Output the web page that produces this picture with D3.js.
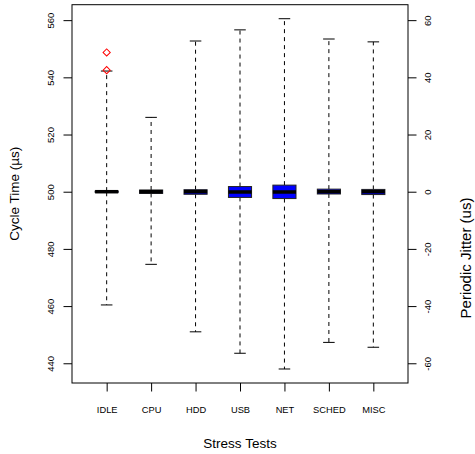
<!DOCTYPE html>
<html>
<head>
<meta charset="utf-8">
<script src="https://cdn.jsdelivr.net/npm/d3@7"></script>
<style>
  html, body { margin: 0; padding: 0; background: #fff; }
  svg { display: block; }
  text { font-family: "Liberation Sans", Arial, sans-serif; fill: #000; }
</style>
</head>
<body>
<svg id="chart" width="475" height="454"></svg>
<script>
// ---- data ----
const categories   = ["IDLE", "CPU", "HDD", "USB", "NET", "SCHED", "MISC"];
const whiskerLow   = [460.4, 474.6, 451.0, 443.5, 438.0, 447.3, 445.6];
const q1           = [499.8, 499.4, 499.1, 498.0, 497.6, 499.2, 499.0];
const median       = [500.0, 500.0, 500.0, 499.9, 499.9, 500.0, 500.0];
const q3           = [500.2, 500.6, 500.7, 501.8, 502.3, 500.9, 500.8];
const whiskerHigh  = [542.2, 526.0, 552.7, 556.6, 560.5, 553.4, 552.4];
const outlierGroup = ["IDLE", "IDLE"];
const outlierValue = [548.7, 542.5];
const leftTicks    = [440, 460, 480, 500, 520, 540, 560];
const rightTicks   = [-60, -40, -20, 0, 20, 40, 60];
const jitterOffset = 500;

const boxes = categories.map((c, i) => ({
  name: c, lo: whiskerLow[i], q1: q1[i], med: median[i], q3: q3[i], hi: whiskerHigh[i]
}));
const outliers = outlierGroup.map((g, i) => ({ name: g, v: outlierValue[i] }));

// ---- layout ----
const plot = { left: 72, right: 408, top: 4.7, bottom: 383 };
const svg = d3.select("#chart");

const x = d3.scaleLinear().domain([0.22, 7.78]).range([plot.left, plot.right]);
const xPos = name => x(categories.indexOf(name) + 1);
const y = d3.scaleLinear().domain([433.1, 565.4]).range([plot.bottom, plot.top]);
const yR = d3.scaleLinear().domain([433.1 - jitterOffset, 565.4 - jitterOffset]).range([plot.bottom, plot.top]);

const boxW = 0.52 * (x(1) - x(0));
const capW = boxW / 2;

const g = svg.append("g");

// whiskers (dashed)
g.selectAll(".wh-up").data(boxes).enter().append("line")
  .attr("x1", d => xPos(d.name)).attr("x2", d => xPos(d.name))
  .attr("y1", d => y(d.q3)).attr("y2", d => y(d.hi))
  .attr("stroke", "#000").attr("stroke-width", 1).attr("stroke-dasharray", "4,4");
g.selectAll(".wh-dn").data(boxes).enter().append("line")
  .attr("x1", d => xPos(d.name)).attr("x2", d => xPos(d.name))
  .attr("y1", d => y(d.q1)).attr("y2", d => y(d.lo))
  .attr("stroke", "#000").attr("stroke-width", 1).attr("stroke-dasharray", "4,4");

// staples
["hi", "lo"].forEach(k => {
  g.selectAll(".cap-" + k).data(boxes).enter().append("line")
    .attr("x1", d => xPos(d.name) - capW / 2).attr("x2", d => xPos(d.name) + capW / 2)
    .attr("y1", d => y(d[k])).attr("y2", d => y(d[k]))
    .attr("stroke", "#000").attr("stroke-width", 1);
});

// boxes
g.selectAll(".box").data(boxes).enter().append("rect")
  .attr("x", d => xPos(d.name) - boxW / 2)
  .attr("width", boxW)
  .attr("y", d => y(d.q3))
  .attr("height", d => y(d.q1) - y(d.q3))
  .attr("fill", "#0000ff").attr("stroke", "#222").attr("stroke-width", 1);

// medians
g.selectAll(".med").data(boxes).enter().append("line")
  .attr("x1", d => xPos(d.name) - boxW / 2).attr("x2", d => xPos(d.name) + boxW / 2)
  .attr("y1", d => y(d.med)).attr("y2", d => y(d.med))
  .attr("stroke", "#000").attr("stroke-width", 3.5);

// outliers (diamonds)
const sym = d3.symbol().type(d3.symbolSquare).size(26);
g.selectAll(".out").data(outliers).enter().append("path")
  .attr("d", sym)
  .attr("transform", d => `translate(${xPos(d.name)},${y(d.v)}) rotate(45)`)
  .attr("fill", "none").attr("stroke", "#ff0000").attr("stroke-width", 1);

// frame
svg.append("rect")
  .attr("x", plot.left).attr("y", plot.top)
  .attr("width", plot.right - plot.left).attr("height", plot.bottom - plot.top)
  .attr("fill", "none").attr("stroke", "#000").attr("stroke-width", 1);

// axes
const tickLen = 8.5;
const leftAxis = svg.append("g").attr("transform", `translate(${plot.left},0)`)
  .call(d3.axisLeft(y).tickValues(leftTicks).tickSize(tickLen).tickPadding(0).tickSizeOuter(0));
leftAxis.select(".domain").remove();
leftAxis.selectAll("text").remove();
leftAxis.selectAll(".tick").append("text")
  .attr("transform", "translate(-21,0) rotate(-90)")
  .attr("text-anchor", "middle").attr("dy", "0.35em")
  .style("font-size", "9.5px")
  .text(d => d);

const rightAxis = svg.append("g").attr("transform", `translate(${plot.right},0)`)
  .call(d3.axisRight(yR).tickValues(rightTicks).tickSize(tickLen).tickSizeOuter(0));
rightAxis.select(".domain").remove();
rightAxis.selectAll("text").remove();
rightAxis.selectAll(".tick").append("text")
  .attr("transform", "translate(20,0) rotate(-90)")
  .attr("text-anchor", "middle").attr("dy", "0.35em")
  .style("font-size", "9.5px")
  .text(d => d);

const xBand = d3.scalePoint().domain(categories).range([x(1), x(7)]);
const bottomAxis = svg.append("g").attr("transform", `translate(0,${plot.bottom})`)
  .call(d3.axisBottom(xBand).tickSize(tickLen).tickSizeOuter(0));
bottomAxis.select(".domain").remove();
bottomAxis.selectAll("text").remove();
bottomAxis.selectAll(".tick").append("text")
  .attr("y", 27).attr("text-anchor", "middle").attr("dy", "0.35em")
  .style("font-size", "9.3px")
  .text(d => d);

svg.selectAll(".tick line").attr("stroke", "#000");

// titles
svg.append("text").attr("x", (plot.left + plot.right) / 2).attr("y", 443)
  .attr("text-anchor", "middle").attr("dy", "0.35em")
  .style("font-size", "13.5px").text("Stress Tests");
svg.append("text").attr("transform", `translate(14,${(plot.top + plot.bottom) / 2}) rotate(-90)`)
  .attr("text-anchor", "middle").attr("dy", "0.35em")
  .style("font-size", "13.5px").text("Cycle Time (µs)");
svg.append("text").attr("transform", `translate(466,258) rotate(-90)`)
  .attr("text-anchor", "middle").attr("dy", "0.35em")
  .style("font-size", "15px").text("Periodic Jitter (us)");
</script>
</body>
</html>
